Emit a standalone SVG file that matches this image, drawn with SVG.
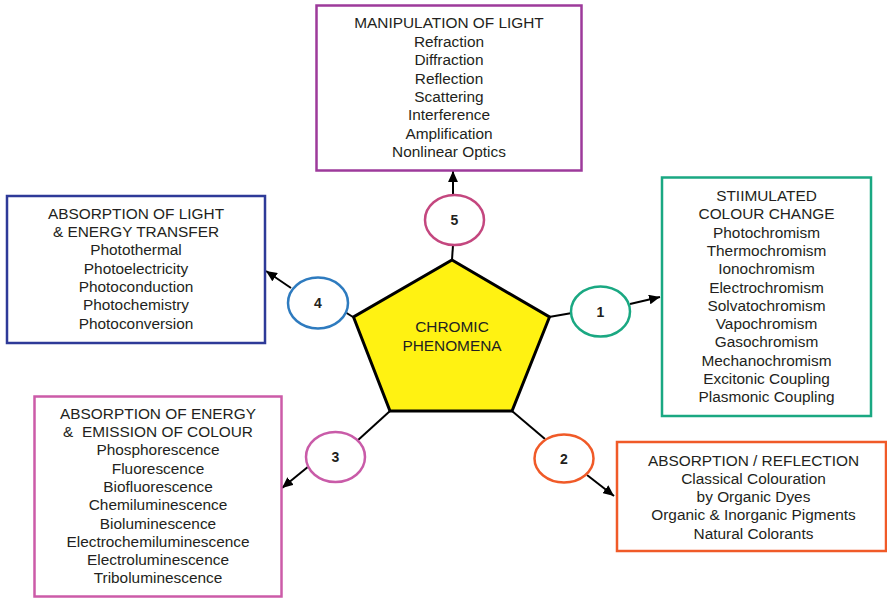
<svg xmlns="http://www.w3.org/2000/svg" width="887" height="598" viewBox="0 0 887 598">
<defs>
<style>
text{font-family:"Liberation Sans",Arial,sans-serif;font-size:15.4px;fill:#231f20;text-anchor:middle}
.num{font-weight:bold;font-size:14px}
.box{fill:#fff;stroke-width:2.5}
.circ{fill:#fff;stroke-width:2.5}
.conn line{stroke:#000;stroke-width:2}
</style>
<marker id="ah" viewBox="0 0 10 9" refX="10" refY="4.5" markerWidth="11" markerHeight="10" markerUnits="userSpaceOnUse" orient="auto"><path d="M0,0 L10,4.5 L0,9 z" fill="#000"/></marker>
</defs>
<rect width="887" height="598" fill="#fff"/>
<g class="conn">
<line x1="452" y1="260" x2="453" y2="245"/>
<line x1="453" y1="195" x2="453" y2="171" marker-end="url(#ah)"/>
<line x1="353" y1="317" x2="345" y2="312"/>
<line x1="291" y1="288" x2="266" y2="271" marker-end="url(#ah)"/>
<line x1="549" y1="317" x2="572" y2="313"/>
<line x1="630" y1="304" x2="660" y2="297" marker-end="url(#ah)"/>
<line x1="512" y1="411" x2="545" y2="439"/>
<line x1="587" y1="475" x2="614" y2="496" marker-end="url(#ah)"/>
<line x1="390" y1="411" x2="357" y2="441"/>
<line x1="309" y1="466" x2="282" y2="488" marker-end="url(#ah)"/>
</g>
<g id="center">
<polygon points="452,260 549.5,317 512,411 390,411 353.5,317" fill="#fff212" stroke="#000" stroke-width="3" stroke-linejoin="miter"/>
<text x="452" y="332">CHROMIC</text>
<text x="452" y="350.5">PHENOMENA</text>
</g>
<g id="c5"><ellipse class="circ" cx="454.5" cy="220" rx="29.5" ry="25" stroke="#c4477f"/><text class="num" x="454.5" y="225">5</text></g>
<g id="c4"><ellipse class="circ" cx="318" cy="303" rx="30" ry="25.5" stroke="#2e7bbf"/><text class="num" x="318" y="308">4</text></g>
<g id="c1"><ellipse class="circ" cx="600.5" cy="311.5" rx="29.5" ry="25" stroke="#1aa882"/><text class="num" x="600.5" y="316.5">1</text></g>
<g id="c2"><ellipse class="circ" cx="564" cy="458.5" rx="29.5" ry="24" stroke="#f05a28"/><text class="num" x="564" y="463.5">2</text></g>
<g id="c3"><ellipse class="circ" cx="335.5" cy="457" rx="29.5" ry="25" stroke="#c95ba8"/><text class="num" x="335.5" y="462">3</text></g>
<g id="box5">
<rect class="box" x="316.5" y="5.5" width="265" height="165" stroke="#9d3a9b"/>
<text x="449" y="28">MANIPULATION OF LIGHT</text>
<text x="449" y="47">Refraction</text>
<text x="449" y="65.3">Diffraction</text>
<text x="449" y="83.6">Reflection</text>
<text x="449" y="101.9">Scattering</text>
<text x="449" y="120.2">Interference</text>
<text x="449" y="138.5">Amplification</text>
<text x="449" y="156.8">Nonlinear Optics</text>
</g>
<g id="box4">
<rect class="box" x="7" y="196" width="258" height="147" stroke="#2e3a98"/>
<text x="136" y="218.7">ABSORPTION OF LIGHT</text>
<text x="136" y="237">&amp; ENERGY TRANSFER</text>
<text x="136" y="255.3">Photothermal</text>
<text x="136" y="273.6">Photoelectricity</text>
<text x="136" y="291.9">Photoconduction</text>
<text x="136" y="310.2">Photochemistry</text>
<text x="136" y="328.5">Photoconversion</text>
</g>
<g id="box1">
<rect class="box" x="662" y="177.5" width="209" height="238.5" stroke="#1aa882"/>
<text x="766.5" y="201">STIIMULATED</text>
<text x="766.5" y="219.3">COLOUR CHANGE</text>
<text x="766.5" y="237.6">Photochromism</text>
<text x="766.5" y="255.9">Thermochromism</text>
<text x="766.5" y="274.2">Ionochromism</text>
<text x="766.5" y="292.5">Electrochromism</text>
<text x="766.5" y="310.8">Solvatochromism</text>
<text x="766.5" y="329.1">Vapochromism</text>
<text x="766.5" y="347.4">Gasochromism</text>
<text x="766.5" y="365.7">Mechanochromism</text>
<text x="766.5" y="384">Excitonic Coupling</text>
<text x="766.5" y="402.3">Plasmonic Coupling</text>
</g>
<g id="box2">
<rect class="box" x="617" y="442" width="269" height="109" stroke="#f05a28"/>
<text x="753.5" y="465.5">ABSORPTION / REFLECTION</text>
<text x="753.5" y="483.8">Classical Colouration</text>
<text x="753.5" y="502.1">by Organic Dyes</text>
<text x="753.5" y="520.4">Organic &amp; Inorganic Pigments</text>
<text x="753.5" y="538.7">Natural Colorants</text>
</g>
<g id="box3">
<rect class="box" x="34.5" y="396.5" width="247" height="200" stroke="#cc5ba8"/>
<text x="158" y="418.7">ABSORPTION OF ENERGY</text>
<text x="158" y="437" xml:space="preserve">&amp;  EMISSION OF COLOUR</text>
<text x="158" y="455.3">Phosphorescence</text>
<text x="158" y="473.6">Fluorescence</text>
<text x="158" y="491.9">Biofluorescence</text>
<text x="158" y="510.2">Chemiluminescence</text>
<text x="158" y="528.5">Bioluminescence</text>
<text x="158" y="546.8">Electrochemiluminescence</text>
<text x="158" y="565.1">Electroluminescence</text>
<text x="158" y="583.4">Triboluminescence</text>
</g>
</svg>
